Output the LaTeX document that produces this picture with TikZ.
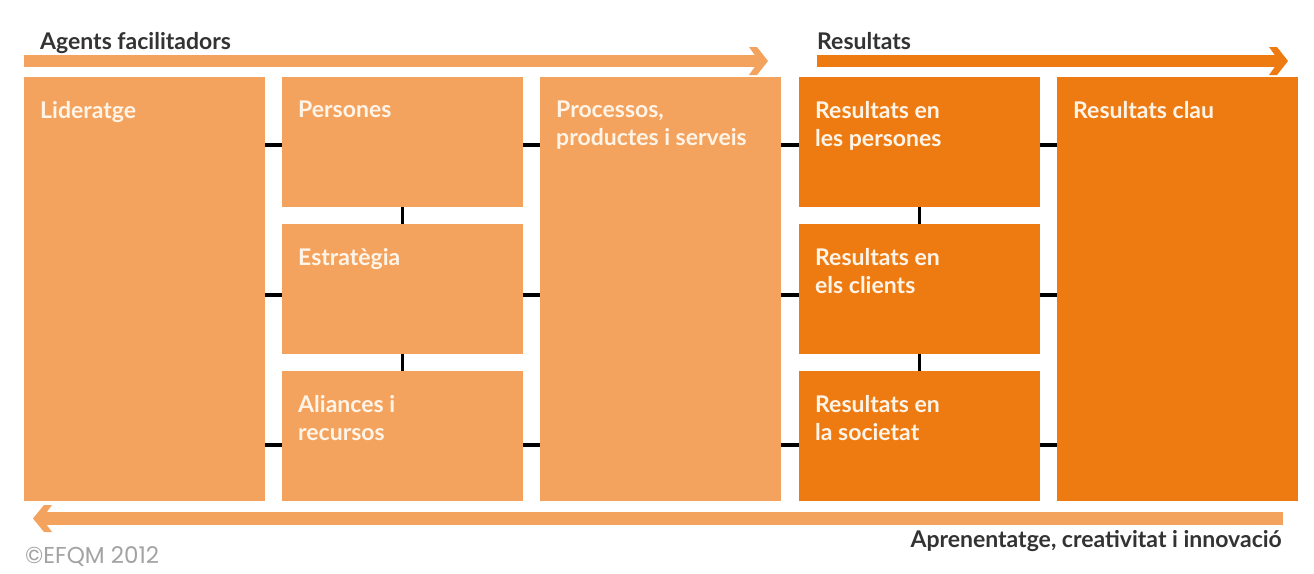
\documentclass[tikz,border=0pt]{standalone}
\usepackage{fontspec}
\setmainfont{Lato}
\newfontfamily\efqmfont{Poppins}
\definecolor{lightor}{HTML}{F4A35E}
\definecolor{darkor}{HTML}{EE7B12}
\definecolor{cream}{HTML}{FFF4E8}
\definecolor{titlegray}{HTML}{333333}
\definecolor{copygray}{HTML}{A3A3A3}
\begin{document}
\begin{tikzpicture}[x=1pt,y=-1pt,
  box/.style={draw=none, inner sep=0pt, minimum width=241pt, anchor=north west},
  lightbox/.style={box, fill=lightor},
  darkbox/.style={box, fill=darkor},
  tallbox/.style={minimum height=424pt},
  shortbox/.style={minimum height=130pt},
  lbl/.style={text=cream, font=\bfseries\fontsize{23}{28}\selectfont, align=left, anchor=north west, inner sep=0pt},
  ttl/.style={text=titlegray, font=\bfseries\fontsize{23}{26}\selectfont, inner sep=0pt},
  conn/.style={line width=3.5pt, black},
]
\useasboundingbox[fill=white] (0,0) rectangle (1314,573);

% top arrows
\fill[lightor] (24,55) rectangle (759,67);
\fill[lightor] (749,47) -- (757,47) -- (768,61) -- (757,75) -- (749,75) -- (759,61) -- cycle;
\fill[darkor] (817,55) rectangle (1279,67);
\fill[darkor] (1269,47) -- (1277,47) -- (1288,61) -- (1277,75) -- (1269,75) -- (1279,61) -- cycle;
% bottom arrow
\fill[lightor] (42,512) rectangle (1283,525);
\fill[lightor] (52,505) -- (44,505) -- (33,518.5) -- (44,532) -- (52,532) -- (42,518.5) -- cycle;

\node[ttl, anchor=base west] (tagents) at (40,49) {Agents facilitadors};
\node[ttl, anchor=base west] (tres) at (817,49) {Resultats};
\node[ttl, anchor=base east] (tapr) at (1282,547) {Aprenentatge, creativitat i innovació};
\node[text=copygray, font=\efqmfont\fontsize{23}{26}\selectfont, inner sep=0pt, anchor=base west] (copy) at (25,563) {©EFQM 2012};

% boxes
\node[lightbox, tallbox] (lid) at (24,77) {};
\node[lightbox, shortbox] (pers) at (282,77) {};
\node[lightbox, shortbox] (estr) at (282,224) {};
\node[lightbox, shortbox] (alia) at (282,371) {};
\node[lightbox, tallbox] (proc) at (540,77) {};
\node[darkbox, shortbox] (rpers) at (799,77) {};
\node[darkbox, shortbox] (rcli) at (799,224) {};
\node[darkbox, shortbox] (rsoc) at (799,371) {};
\node[darkbox, tallbox] (rclau) at (1057,77) {};

% labels
\node[lbl] (lidl) at ([xshift=16pt,yshift=-24pt]lid.north west) {Lideratge};
\node[lbl] (persl) at ([xshift=16pt,yshift=-24pt]pers.north west) {Persones};
\node[lbl] (estrl) at ([xshift=16pt,yshift=-24pt]estr.north west) {Estratègia};
\node[lbl] (lial) at ([xshift=16pt,yshift=-24pt]alia.north west) {Aliances i\\recursos};
\node[lbl] (procl) at ([xshift=16pt,yshift=-24pt]proc.north west) {Processos,\\productes i serveis};
\node[lbl] (rpersl) at ([xshift=16pt,yshift=-24pt]rpers.north west) {Resultats en\\les persones};
\node[lbl] (rclil) at ([xshift=16pt,yshift=-24pt]rcli.north west) {Resultats en\\els clients};
\node[lbl] (rsocl) at ([xshift=16pt,yshift=-24pt]rsoc.north west) {Resultats en\\la societat};
\node[lbl] (rclaul) at ([xshift=16pt,yshift=-24pt]rclau.north west) {Resultats clau};

% connectors
\foreach \a/\b/\y in {lid/pers/145, pers/proc/145, proc/rpers/145, rpers/rclau/145,
                      lid/estr/295, estr/proc/295, proc/rcli/295, rcli/rclau/295,
                      lid/alia/445, alia/proc/445, proc/rsoc/445, rsoc/rclau/445}
  \draw[conn] (\a.east |- 0,\y) -- (\b.west |- 0,\y);
\draw[conn] (pers.south) -- (estr.north);
\draw[conn] (estr.south) -- (alia.north);
\draw[conn] (rpers.south) -- (rcli.north);
\draw[conn] (rcli.south) -- (rsoc.north);
\end{tikzpicture}
\end{document}
